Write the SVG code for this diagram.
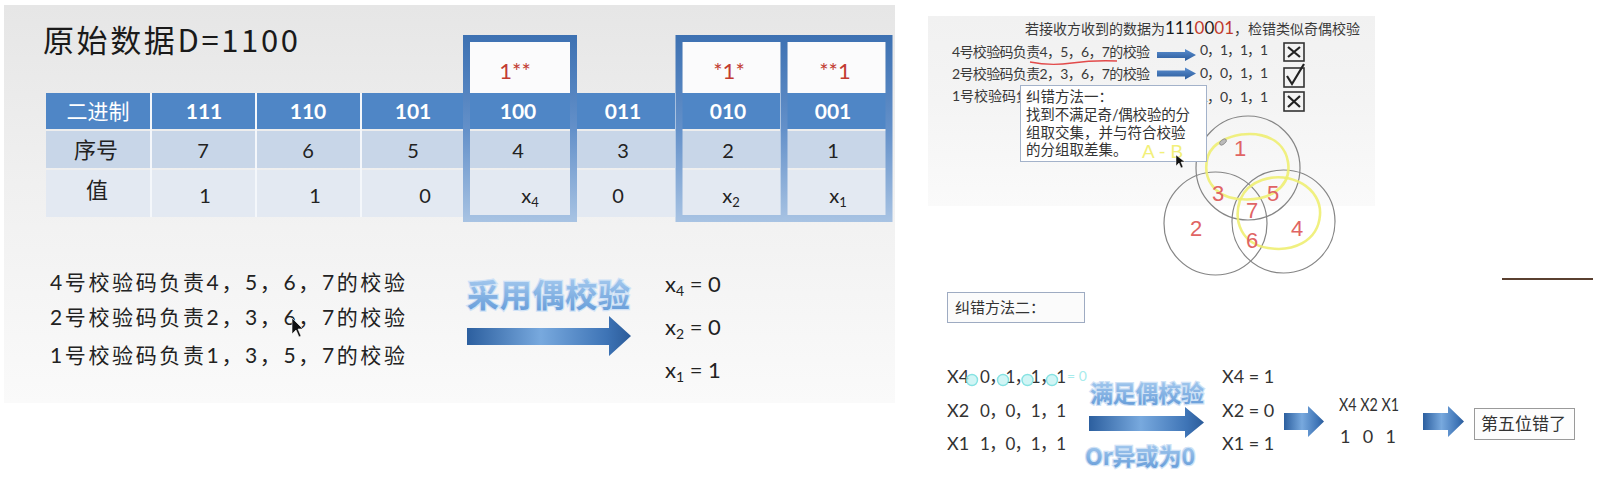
<svg xmlns="http://www.w3.org/2000/svg" width="1616" height="494" viewBox="0 0 1616 494">
<defs>
  <linearGradient id="panelL" x1="0" y1="0" x2="0" y2="1">
    <stop offset="0" stop-color="#e6e6e6"/><stop offset="0.45" stop-color="#f0f0f0"/><stop offset="1" stop-color="#fafafa"/>
  </linearGradient>
  <linearGradient id="panelR" x1="0" y1="0" x2="0" y2="1">
    <stop offset="0" stop-color="#f1f1f1"/><stop offset="0.45" stop-color="#f4f4f4"/><stop offset="1" stop-color="#fafafa"/>
  </linearGradient>
  <linearGradient id="boxStroke" gradientUnits="userSpaceOnUse" x1="0" y1="35" x2="0" y2="222">
    <stop offset="0" stop-color="#3d71b2"/><stop offset="0.5" stop-color="#6390c9"/><stop offset="1" stop-color="#a8c3e3"/>
  </linearGradient>
  <linearGradient id="arrowG" x1="0" y1="0" x2="1" y2="0">
    <stop offset="0" stop-color="#2c5f9f"/><stop offset="0.45" stop-color="#78a9de"/><stop offset="0.85" stop-color="#3e74b6"/><stop offset="1" stop-color="#2b5b99"/>
  </linearGradient>
  <linearGradient id="smallArrow" x1="0" y1="0" x2="0" y2="1">
    <stop offset="0" stop-color="#5b8fd0"/><stop offset="1" stop-color="#2a5a9a"/>
  </linearGradient>
  <linearGradient id="wordG" x1="0" y1="0" x2="0" y2="1">
    <stop offset="0" stop-color="#b2d3f3"/><stop offset="1" stop-color="#5f97d6"/>
  </linearGradient>
  <style>
    .cjk { font-family: "Noto Sans CJK SC", sans-serif; }
    .lat { font-family: Lato, "Liberation Sans", "Noto Sans CJK SC", sans-serif; }
    .hdr { fill: #ffffff; font-weight: bold; font-size: 21px; text-anchor: middle; }
    .num { fill: #222222; font-size: 20px; text-anchor: middle; }
    .red { fill: #c23b31; font-size: 22px; text-anchor: middle; }
    .body { fill: #222222; font-size: 21px; }
    .sm { fill: #3a3a3a; font-size: 14px; }
    .word { fill: url(#wordG); stroke: #cfe2f6; stroke-width: 2.5px; paint-order: stroke; font-weight: bold; }
    .bigArrow { fill: url(#arrowG); }
    .rowArrow { fill: url(#smallArrow); }
    .chk { fill: none; stroke: #333333; stroke-width: 1.6; }
    .venn { fill: none; stroke: #858585; stroke-width: 1.2; }
    .hand { fill: #e06464; font-family: "Liberation Sans", sans-serif; font-size: 22px; text-anchor: middle; }
    .yel { fill: none; stroke: #eeee72; stroke-width: 2.6; stroke-linecap: round; opacity: 0.9; }
    .cyan { fill: #c9f4f4; stroke: #72dede; stroke-width: 1.4; opacity: 0.85; }
  </style>
</defs>

<rect x="0" y="0" width="1616" height="494" fill="#ffffff"/>
<rect x="928" y="16" width="447" height="190" fill="url(#panelR)"/>

<!-- ================= LEFT SLIDE ================= -->
<g id="left-panel">
  <rect x="4" y="5" width="891" height="398" fill="url(#panelL)"/>
  <text class="cjk" x="43" y="52" font-size="31" fill="#1a1a1a" textLength="255">原始数据D=1100</text>
</g>

<g id="table">
  <rect x="46" y="93" width="840" height="36" fill="#4f86c6"/>
  <rect x="46" y="131" width="840" height="37" fill="#c8d6e8"/>
  <rect x="46" y="170" width="840" height="47" fill="#e3e9f2"/>
  <g stroke="#f4f7fb" stroke-width="2">
    <line x1="151" y1="93" x2="151" y2="217"/>
    <line x1="256" y1="93" x2="256" y2="217"/>
    <line x1="361" y1="93" x2="361" y2="217"/>
    <line x1="466" y1="93" x2="466" y2="217"/>
    <line x1="571" y1="93" x2="571" y2="217"/>
    <line x1="676" y1="93" x2="676" y2="217"/>
    <line x1="781" y1="93" x2="781" y2="217"/>
  </g>
  <text class="cjk" x="98" y="119" font-size="21" fill="#ffffff" text-anchor="middle">二进制</text>
  <text class="lat hdr" x="204" y="119">111</text>
  <text class="lat hdr" x="308" y="119">110</text>
  <text class="lat hdr" x="413" y="119">101</text>
  <text class="lat hdr" x="518" y="119">100</text>
  <text class="lat hdr" x="623" y="119">011</text>
  <text class="lat hdr" x="728" y="119">010</text>
  <text class="lat hdr" x="833" y="119">001</text>
  <text class="cjk" x="96" y="158" font-size="22" fill="#222" text-anchor="middle">序号</text>
  <text class="lat num" x="203" y="158">7</text>
  <text class="lat num" x="308" y="158">6</text>
  <text class="lat num" x="413" y="158">5</text>
  <text class="lat num" x="518" y="158">4</text>
  <text class="lat num" x="623" y="158">3</text>
  <text class="lat num" x="728" y="158">2</text>
  <text class="lat num" x="833" y="158">1</text>
  <text class="cjk" x="97" y="198" font-size="22" fill="#222" text-anchor="middle">值</text>
  <text class="lat num" x="205" y="203">1</text>
  <text class="lat num" x="315" y="203">1</text>
  <text class="lat num" x="425" y="203">0</text>
  <text class="lat num" x="530" y="203">x<tspan font-size="13" dy="4">4</tspan></text>
  <text class="lat num" x="618" y="203">0</text>
  <text class="lat num" x="731" y="203">x<tspan font-size="13" dy="4">2</tspan></text>
  <text class="lat num" x="838" y="203">x<tspan font-size="13" dy="4">1</tspan></text>
</g>

<g id="check-box-4">
  <rect x="470" y="42" width="101" height="51" fill="#fbfbfc"/>
  <rect x="466.5" y="38.5" width="107" height="180" fill="none" stroke="url(#boxStroke)" stroke-width="7"/>
  <text class="lat red" x="515" y="79">1**</text>
</g>
<g id="check-box-2-1">
  <rect x="682.5" y="42" width="98" height="51" fill="#fbfbfc"/>
  <rect x="787.5" y="42" width="98" height="51" fill="#fbfbfc"/>
  <rect x="679" y="38.5" width="210" height="180" fill="none" stroke="url(#boxStroke)" stroke-width="7"/>
  <rect x="780.5" y="35" width="7" height="187" fill="url(#boxStroke)"/>
  <text class="lat red" x="729" y="79">*1*</text>
  <text class="lat red" x="835" y="79">**1</text>
</g>

<g id="left-rules">
  <text class="lat body" x="50" y="290" textLength="355">4号校验码负责4，5，6，7的校验</text>
  <text class="lat body" x="50" y="325" textLength="355">2号校验码负责2，3，6，7的校验</text>
  <text class="lat body" x="50" y="363" textLength="355">1号校验码负责1，3，5，7的校验</text>
  <polygon points="292,318 292,334 296,330 299,337 301,336 298,329 303,329" fill="#111" stroke="#fff" stroke-width="0.6"/>
</g>

<g id="label-even-parity">
  <text class="cjk word" x="467" y="307" font-size="32" textLength="163">采用偶校验</text>
</g>

<g id="results-left">
  <text class="lat" x="665" y="292" font-size="22" fill="#222">x<tspan font-size="14" dy="4">4</tspan><tspan dy="-4"> = 0</tspan></text>
  <text class="lat" x="665" y="335" font-size="22" fill="#222">x<tspan font-size="14" dy="4">2</tspan><tspan dy="-4"> = 0</tspan></text>
  <text class="lat" x="665" y="378" font-size="22" fill="#222">x<tspan font-size="14" dy="4">1</tspan><tspan dy="-4"> = 1</tspan></text>
</g>

<!-- ================= RIGHT SLIDE ================= -->
<g id="right-heading">
  <text class="lat sm" x="1025" y="34">若接收方收到的数据为<tspan font-size="17" fill="#1a1a1a">111</tspan><tspan font-size="17" fill="#c0392b">0</tspan><tspan font-size="17" fill="#1a1a1a">0</tspan><tspan font-size="17" fill="#c0392b">01</tspan>，检错类似奇偶校验</text>
</g>

<g id="row-check-4">
  <text class="lat sm" x="952" y="57" textLength="198">4号校验码负责4，5，6，7的校验</text>
  <path d="M1030,62 Q1050,66 1072,63 T1117,61" fill="none" stroke="#e24a4a" stroke-width="1.3"/>
  <text class="lat sm" x="1200" y="55" textLength="68">0，1，1，1</text>
  <rect class="chk" x="1284" y="43" width="20" height="18"/>
  <path d="M1288,47 L1300,57 M1300,47 L1288,57" stroke="#222" stroke-width="2.2"/>
</g>
<g id="row-check-2">
  <text class="lat sm" x="952" y="78.5" textLength="198">2号校验码负责2，3，6，7的校验</text>
  <text class="lat sm" x="1200" y="78" textLength="68">0，0，1，1</text>
  <rect class="chk" x="1284" y="68" width="20" height="19"/>
  <path d="M1287,76 L1292,84 L1304,64" fill="none" stroke="#222" stroke-width="2.2"/>
</g>
<g id="row-check-1">
  <text class="lat sm" x="952" y="101">1号校验码负</text>
  <text class="lat sm" x="1200" y="102" textLength="68">1，0，1，1</text>
  <rect class="chk" x="1284" y="92" width="20" height="19"/>
  <path d="M1288,96 L1300,107 M1300,96 L1288,107" stroke="#222" stroke-width="2.2"/>
</g>

<g id="venn">
  <circle class="venn" cx="1248" cy="168" r="52"/>
  <circle class="venn" cx="1215.5" cy="223.5" r="51.5"/>
  <circle class="venn" cx="1283.5" cy="221.5" r="51.5"/>
  <path class="yel" d="M1222,141 C1245,128 1283,132 1288,162 C1292,188 1268,202 1238,199 C1212,196 1202,176 1208,156 C1211,148 1216,144 1222,141"/>
  <path class="yel" d="M1262,180 C1290,170 1322,188 1320,215 C1318,242 1292,252 1268,248 C1242,244 1233,222 1240,200 C1245,188 1253,183 1262,180"/>
  <ellipse cx="1223" cy="142" rx="4" ry="2.2" transform="rotate(-40 1223 142)" fill="#bbbbbb" stroke="#888" stroke-width="0.8"/>
  <text class="hand" x="1240" y="156">1</text>
  <text class="hand" x="1218" y="201">3</text>
  <text class="hand" x="1273" y="201">5</text>
  <text class="hand" x="1252" y="218">7</text>
  <text class="hand" x="1196" y="236">2</text>
  <text class="hand" x="1252" y="248">6</text>
  <text class="hand" x="1297" y="236">4</text>
</g>

<g id="method-one-popup">
  <rect x="1020.5" y="85.5" width="186" height="76" fill="#ffffff" stroke="#a3b2ca" stroke-width="1"/>
  <text class="lat" x="1026" y="102" font-size="14.5" fill="#333">纠错方法一：</text>
  <text class="lat" x="1026" y="120" font-size="14.5" fill="#333" textLength="164">找到不满足奇/偶校验的分</text>
  <text class="lat" x="1026" y="137.5" font-size="14.5" fill="#333">组取交集，并与符合校验</text>
  <text class="lat" x="1026" y="155" font-size="14.5" fill="#333">的分组取差集。</text>
  <text x="1142" y="158" font-family="Liberation Sans, sans-serif" font-size="19" fill="#f2f07a">A - B</text>
  <polygon points="1176,155 1176,166 1179,163 1181,168 1183,167 1181,162 1185,162" fill="#111" stroke="#fff" stroke-width="0.5"/>
</g>

<g id="divider-line">
  <line x1="1502" y1="279" x2="1593" y2="279" stroke="#5a4030" stroke-width="2.2"/>
</g>

<g id="method-two">
  <rect x="947.5" y="292.5" width="137" height="30" fill="#fbfbfb" stroke="#9eabc2" stroke-width="1"/>
  <text class="lat" x="955" y="313" font-size="15" fill="#333">纠错方法二：</text>
</g>

<g id="xor-rows">
  <text class="lat" x="947" y="383" font-size="18" fill="#333">X4</text>
  <text class="lat" x="980" y="383" font-size="17" fill="#333" textLength="86">0，1，1，1</text>
  <circle class="cyan" cx="972" cy="380" r="5.5"/>
  <circle class="cyan" cx="1003" cy="380" r="5.5"/>
  <circle class="cyan" cx="1027.5" cy="380" r="5.5"/>
  <circle class="cyan" cx="1052" cy="380" r="5.5"/>
  <text class="lat" x="1067" y="381" font-size="14" fill="#a8ecec">= 0</text>
  <text class="lat" x="947" y="417" font-size="18" fill="#333">X2</text>
  <text class="lat" x="980" y="417" font-size="17" fill="#333" textLength="86">0，0，1，1</text>
  <text class="lat" x="947" y="450" font-size="18" fill="#333">X1</text>
  <text class="lat" x="980" y="450" font-size="17" fill="#333" textLength="86">1，0，1，1</text>
</g>

<g id="label-satisfy">
  <text class="cjk word" x="1090" y="402" font-size="23" textLength="114">满足偶校验</text>
  <text class="cjk word" x="1085" y="465" font-size="23" textLength="110">Or异或为0</text>
</g>

<g id="xor-results">
  <text class="lat" x="1222" y="383" font-size="18" fill="#333">X4 = 1</text>
  <text class="lat" x="1222" y="417" font-size="18" fill="#333">X2 = 0</text>
  <text class="lat" x="1222" y="450" font-size="18" fill="#333">X1 = 1</text>
</g>

<g id="syndrome">
  <text class="lat" x="1339" y="411" font-size="17" fill="#333" textLength="60" lengthAdjust="spacingAndGlyphs">X4 X2 X1</text>
  <text class="lat" x="1340" y="443" font-size="18" fill="#333" textLength="56">1 0 1</text>
</g>

<g id="result-box">
  <rect x="1474.5" y="408.5" width="100" height="31" fill="#fdfdfd" stroke="#9a9a9a" stroke-width="1"/>
  <text class="lat" x="1481" y="430" font-size="17" fill="#333" textLength="85">第五位错了</text>
</g>

<g id="connectors">
  <polygon class="bigArrow" points="467,328 609,328 609,316 631,336 609,356 609,345 467,345"/>
  <polygon class="bigArrow" points="1089,416 1185,416 1185,407 1204,422.5 1185,438 1185,431 1089,431"/>
  <polygon class="bigArrow" points="1284,413 1308,413 1308,406 1324,421.5 1308,437 1308,430 1284,430"/>
  <polygon class="bigArrow" points="1423,413 1448,413 1448,406 1464,421.5 1448,437 1448,430 1423,430"/>
  <polygon class="rowArrow" points="1157,52 1185,52 1185,49 1196,55 1185,61 1185,58 1157,58"/>
  <polygon class="rowArrow" points="1157,70.5 1185,70.5 1185,67.5 1196,73.5 1185,79.5 1185,76.5 1157,76.5"/>
</g>
</svg>
